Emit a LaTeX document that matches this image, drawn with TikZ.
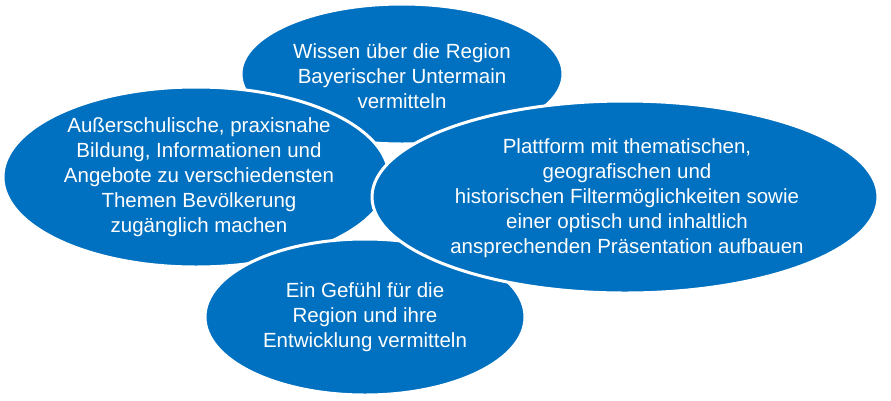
\documentclass[tikz,border=0pt]{standalone}
\usepackage{fontspec}
\setmainfont{Liberation Sans}
\definecolor{zielblau}{RGB}{0,112,192}
\tikzset{
  blase/.style={fill=zielblau,draw=white,line width=3pt},
  ziel/.style={text=white,align=center,font=\fontsize{20.5}{25}\selectfont}
}
\begin{document}
\begin{tikzpicture}[x=1pt,y=-1pt]
\useasboundingbox (0,0) rectangle (891,400);

\draw[blase] (402,74) ellipse (161 and 70) ;
\node[ziel] (wissen) at (402,76) {Wissen über die Region\\Bayerischer Untermain\\vermitteln} ;

\draw[blase] (196,177) ellipse (193 and 90) ;
\node[ziel] (bildung) at (199,177) {Außerschulische, praxisnahe\\Bildung, Informationen und\\Angebote zu verschiedensten\\Themen Bevölkerung\\zugänglich machen} ;

\draw[blase] (365,317) ellipse (160 and 78) ;
\node[ziel] (gefuehl) at (365,317) {Ein Gefühl für die\\Region und ihre\\Entwicklung vermitteln} ;

\draw[blase] (625,197) ellipse (253 and 96) ;
\node[ziel] (plattform) at (627,198) {Plattform mit thematischen,\\geografischen und\\historischen Filtermöglichkeiten sowie\\einer optisch und inhaltlich\\ansprechenden Präsentation aufbauen} ;

\end{tikzpicture}
\end{document}
